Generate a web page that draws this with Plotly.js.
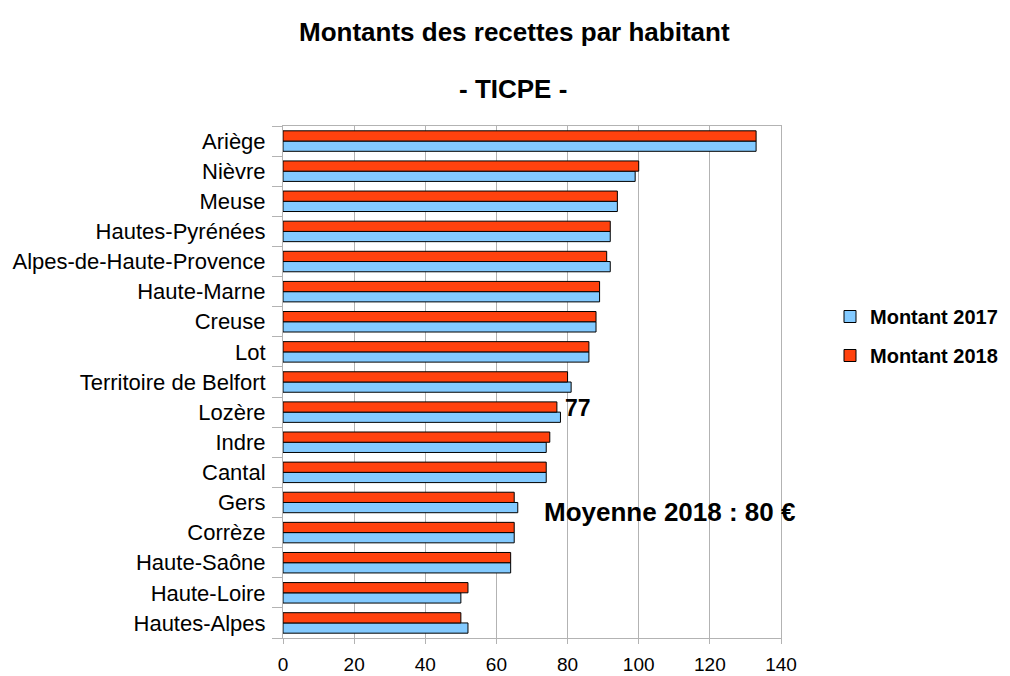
<!DOCTYPE html>
<html><head><meta charset="utf-8">
<script src="https://cdn.plot.ly/plotly-3.0.1.min.js"></script>
<style>body{margin:0;background:#fff}#c{width:1010px;height:676px}</style>
</head><body><div id="c"></div>
<script>
const departements = ["Hautes-Alpes","Haute-Loire","Haute-Saône","Corrèze","Gers","Cantal","Indre","Lozère","Territoire de Belfort","Lot","Creuse","Haute-Marne","Alpes-de-Haute-Provence","Hautes-Pyrénées","Meuse","Nièvre","Ariège"];
const montant2017 = [52,50,64,65,66,74,74,78,81,86,88,89,92,92,94,99,133];
const montant2018 = [50,52,64,65,65,74,75,77,80,86,88,89,91,92,94,100,133];
const xTicks = [0,20,40,60,80,100,120,140];

const F = "Liberation Sans, Arial, sans-serif";
const traces = [
  {type:"bar", orientation:"h", name:"Montant 2017", y:departements, x:montant2017,
   marker:{color:"#83caff", line:{color:"#000", width:1}}, legendgroup:"a"},
  {type:"bar", orientation:"h", name:"Montant 2018", y:departements, x:montant2018,
   marker:{color:"#ff420e", line:{color:"#000", width:1}}, legendgroup:"b"}
];
const W = 498, H = 512, L = 283, T = 126;
const px = v => (v - L) / W;
const py = v => (T + H - v) / H;
const layout = {
  width:1010, height:676,
  margin:{l:L, r:1010-L-W, t:T, b:676-T-H, autoexpand:false},
  paper_bgcolor:"#fff", plot_bgcolor:"#fff",
  barmode:"group", bargap:0.32, bargroupgap:0,
  font:{family:F, size:16, color:"#000"},
  xaxis:{range:[0,140], tickvals:xTicks, ticktext:xTicks.map(String), showgrid:true, gridcolor:"#b3b3b3", gridwidth:1,
         zeroline:false, showline:true, linecolor:"#b3b3b3", mirror:true, ticks:"outside", ticklen:5, tickcolor:"#b3b3b3",
         ticklabelstandoff:4, tickfont:{size:19, family:F}, fixedrange:true, automargin:false},
  yaxis:{type:"category", categoryorder:"array", categoryarray:departements, showgrid:false, showline:true, linecolor:"#b3b3b3",
         mirror:true, ticks:"outside", ticklen:10, tickcolor:"#b3b3b3", tickson:"boundaries", ticklabelstandoff:12,
         tickfont:{size:22, family:F}, fixedrange:true, automargin:false},
  showlegend:true,
  legend:{x:px(830), y:py(336), xanchor:"left", yanchor:"middle", traceorder:"grouped", tracegroupgap:10,
          font:{family:F, size:20, color:"#000", weight:"bold"}, itemwidth:30},
  annotations:[
    {text:"<b>Montants des recettes par habitant</b>", xref:"paper", yref:"paper", x:px(514.5), y:py(32),
     xanchor:"center", yanchor:"middle", showarrow:false, font:{size:26, family:F}},
    {text:"<b>- TICPE -</b>", xref:"paper", yref:"paper", x:px(513), y:py(89),
     xanchor:"center", yanchor:"middle", showarrow:false, font:{size:26, family:F}},
    {text:"<b>77</b>", xref:"paper", yref:"paper", x:px(577.5), y:py(408),
     xanchor:"center", yanchor:"middle", showarrow:false, font:{size:23, family:F}},
    {text:"<b>Moyenne 2018 : 80 €</b>", xref:"paper", yref:"paper", x:px(542), y:py(512),
     xanchor:"left", yanchor:"middle", showarrow:false, font:{size:26, family:F}}
  ]
};
Plotly.newPlot("c", traces, layout, {displayModeBar:false, staticPlot:true});
</script></body></html>
